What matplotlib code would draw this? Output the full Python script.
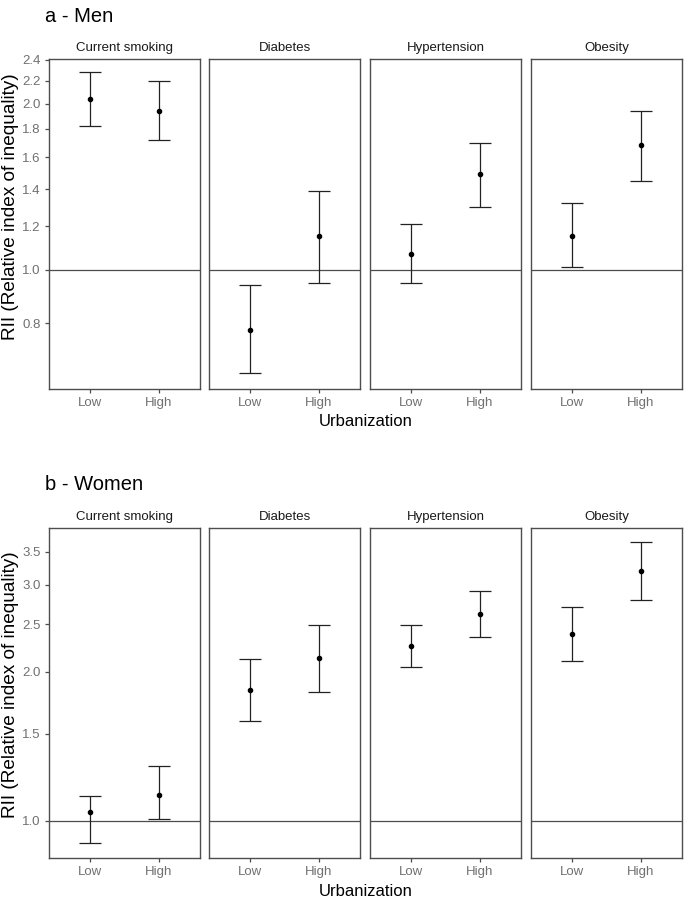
import numpy as np
import matplotlib
matplotlib.use("Agg")
import matplotlib.pyplot as plt
from matplotlib.ticker import FixedLocator, FixedFormatter, NullLocator

plt.rcParams["font.family"] = ["Liberation Sans", "DejaVu Sans"]

# Data

conditions = ["Current smoking", "Diabetes", "Hypertension", "Obesity"]
urbanization = ["Low", "High"]

men_rii = [[2.04, 1.94], [0.777, 1.15], [1.07, 1.49], [1.15, 1.68]]
men_lower = [[1.82, 1.72], [0.649, 0.947], [0.947, 1.30], [1.01, 1.45]]
men_upper = [[2.28, 2.20], [0.937, 1.39], [1.21, 1.70], [1.32, 1.94]]

women_rii = [[1.04, 1.13], [1.84, 2.13], [2.26, 2.62], [2.39, 3.20]]
women_lower = [[0.90, 1.01], [1.59, 1.82], [2.05, 2.35], [2.10, 2.79]]
women_upper = [[1.12, 1.29], [2.12, 2.49], [2.49, 2.91], [2.71, 3.66]]

men_ticks = [0.8, 1.0, 1.2, 1.4, 1.6, 1.8, 2.0, 2.2, 2.4]
women_ticks = [1.0, 1.5, 2.0, 2.5, 3.0, 3.5]

# Figure

W, H = 685, 899
fig = plt.figure(figsize=(W / 100, H / 100), dpi=100)

panel_left = [49, 209, 370, 531]
panel_width = 151

GRAY = "#4d4d4d"
TICK_GRAY = "#707070"


def draw_block(top, bottom, ylab_y, title, rii, lower, upper, ticks, ylim):

    axes = []

    for i, cond in enumerate(conditions):

        ax = fig.add_axes([
            panel_left[i] / W,
            1 - bottom / H,
            panel_width / W,
            (bottom - top) / H
        ])

        x = np.arange(len(urbanization))
        y = np.array(rii[i])
        lo = y - np.array(lower[i])
        hi = np.array(upper[i]) - y

        ax.axhline(1.0, color=GRAY, linewidth=0.9, zorder=1)

        ax.errorbar(
            x, y,
            yerr=[lo, hi],
            fmt="o",
            color="black",
            ecolor="#222222",
            elinewidth=0.9,
            capsize=7.6,
            capthick=0.9,
            markersize=3.0,
            zorder=3
        )

        ax.set_yscale("log")
        ax.set_ylim(*ylim)
        ax.set_xlim(-0.6, 1.6)

        ax.set_xticks(x)
        ax.set_xticklabels(urbanization)

        ax.yaxis.set_major_locator(FixedLocator(ticks))
        ax.yaxis.set_major_formatter(FixedFormatter([f"{t:.1f}" for t in ticks]))
        ax.yaxis.set_minor_locator(NullLocator())

        if i > 0:
            ax.tick_params(axis="y", left=False, labelleft=False)

        ax.tick_params(
            axis="both",
            direction="out",
            length=3,
            width=0.9,
            color=GRAY,
            labelcolor=TICK_GRAY,
            labelsize=9.5,
            pad=3
        )

        for s in ax.spines.values():
            s.set_color(GRAY)
            s.set_linewidth(1.0)

        ax.set_title(cond, fontsize=9.5, color="#1a1a1a", pad=6)

        axes.append(ax)

    fig.text(45 / W, 1 - (top - 43) / H, title,
             fontsize=14.5, color="black", va="center", ha="left")

    fig.text((49 + 682) / 2 / W, 1 - (bottom + 33) / H, "Urbanization",
             fontsize=12, color="black", va="center", ha="center")

    fig.text(11 / W, 1 - ylab_y / H,
             "RII (Relative index of inequality)",
             fontsize=13.7, color="black", rotation=90,
             va="center", ha="center")

    return axes


draw_block(59, 389, 207, "a - Men", men_rii, men_lower, men_upper,
           men_ticks, (0.608, 2.41))

draw_block(528, 858, 685, "b - Women", women_rii, women_lower, women_upper,
           women_ticks, (0.841, 3.91))

plt.savefig("out.png", dpi=100)
plt.close()
